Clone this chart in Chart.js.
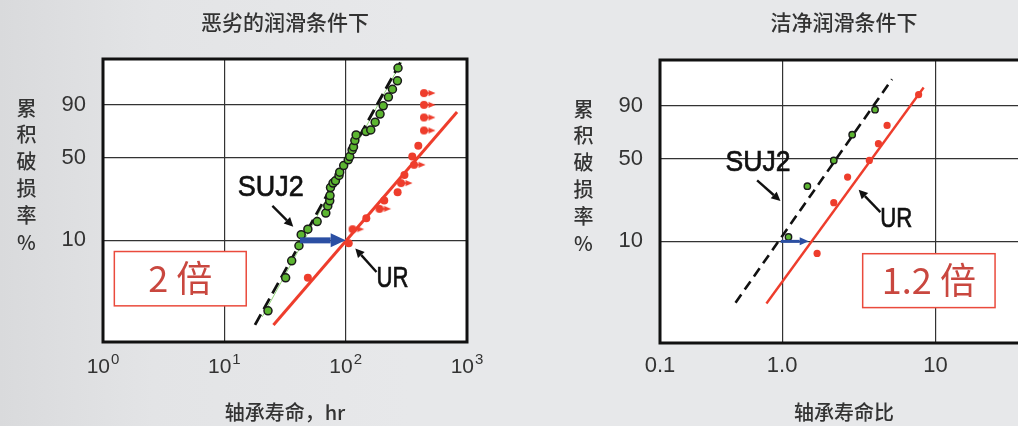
<!DOCTYPE html>
<html>
<head>
<meta charset="utf-8">
<script src="https://cdn.jsdelivr.net/npm/chart.js@4.4.1/dist/chart.umd.min.js"></script>
<style>
html,body{margin:0;padding:0;width:1018px;height:426px;overflow:hidden;
  background:linear-gradient(90deg,#d9dadc 0%,#e3e4e6 15%,#e7e8ea 40%,#e7e8ea 100%);}
#left{position:absolute;left:0;top:0}
#right{position:absolute;left:500px;top:0}
</style>
</head>
<body>
<canvas id="left" width="500" height="426"></canvas>
<canvas id="right" width="535" height="426"></canvas>
<script>
// shared y axis: cumulative failure %, on a Weibull scale
const yTickPcts = [10, 50, 90];
const yRangePct = [1.04, 99.85];
const yTitleChars = ['累', '积', '破', '损', '率', '%'];

// left chart - poor lubrication, life in hours
const leftXTicks = [1, 10, 100, 1000];
const sujLife = [22.9, 32.0, 35.9, 41.2, 43.0, 48.8, 58.2, 68.6, 71.2, 73.9, 74.3, 75.0, 78.7, 82.4, 88.1, 89.3,
                 96.3, 105, 108, 113, 116, 119, 122, 147, 161, 175, 192, 204, 225, 243, 267, 270];
const sujPct  = [2.1, 4.4, 6.4, 8.9, 11.3, 12.7, 14.9, 17.8, 20.6, 22.8, 25.3, 29.5, 32.1, 33.5, 36.9, 39.1,
                 43.8, 48.2, 50.7, 56.1, 58.6, 63.9, 68.6, 71.3, 72.7, 78.7, 84.4, 89.4, 93.5, 96.2, 98.1, 99.5];
const urLife = [48.8, 106, 148, 208, 268, 305, 354, 397];
const urPct  = [4.4, 9.4, 16.0, 22.9, 27.0, 37.3, 50.7, 59.5];
// suspended (still running) UR bearings, shown with a right arrow
const urSuspLife = [114, 190, 286, 366, 442, 442, 442, 442];
const urSuspPct  = [12.7, 19.4, 32.1, 44.4, 72.2, 82.1, 89.9, 95.0];
const sujFitLife = [17.9, 293];
const sujFitPct  = [1.53, 99.85];
const sujThinLife = [20.5, 288];
const sujThinPct  = [1.83, 99.77];
const urFitLife = [25.4, 828];
const urFitPct  = [1.53, 85.7];

// right chart - clean lubrication, life ratio
const rightXTicks = [0.16, 1, 10];
const rightXTickLabels = ['0.1', '1.0', '10'];
const rSujRatio = [1.10, 1.46, 2.17, 2.86, 4.03];
const rSujPct   = [11.0, 30.9, 48.5, 69.6, 87.8];
const rUrRatio = [1.69, 2.17, 2.67, 3.70, 4.24, 4.83, 7.75];
const rUrPct   = [7.7, 22.4, 36.5, 48.5, 62.1, 77.0, 94.8];
const rSujFitRatio = [0.497, 5.20];
const rSujFitPct   = [2.58, 98.5];
const rUrFitRatio = [0.79, 8.36];
const rUrFitPct   = [2.53, 96.9];

const RED = '#ee3d2c', GREEN = '#5cb531', BLUE = '#2b4fa3';
const SANS = '"Liberation Sans", Arial, sans-serif';
const CJK = '"Noto Sans CJK SC", "Noto Sans", sans-serif';
Chart.defaults.font.family = SANS;

const wb = p => Math.log(-Math.log(1 - p / 100));
const pts = (xs, ps) => xs.map((x, i) => ({x: x, y: wb(ps[i])}));

function suspendedMarker(){
  const c = document.createElement('canvas');
  c.width = 26; c.height = 10;
  const g = c.getContext('2d');
  g.fillStyle = RED;
  g.beginPath(); g.arc(13, 5, 4, 0, Math.PI * 2); g.fill();
  g.beginPath(); g.moveTo(17.5, 2); g.lineTo(24.5, 5); g.lineTo(17.5, 8); g.closePath(); g.fill();
  g.fillRect(16, 4.2, 2, 1.6);
  return c;
}

function arrow(ctx, x1, y1, x2, y2, w, len, half, color){
  const a = Math.atan2(y2 - y1, x2 - x1);
  const bx = x2 - Math.cos(a) * len, by = y2 - Math.sin(a) * len;
  ctx.save();
  ctx.strokeStyle = color; ctx.fillStyle = color; ctx.lineWidth = w;
  ctx.beginPath(); ctx.moveTo(x1, y1); ctx.lineTo(bx, by); ctx.stroke();
  ctx.beginPath();
  ctx.moveTo(x2, y2);
  ctx.lineTo(bx + Math.sin(a) * half, by - Math.cos(a) * half);
  ctx.lineTo(bx - Math.sin(a) * half, by + Math.cos(a) * half);
  ctx.closePath(); ctx.fill();
  ctx.restore();
}

// annotations, titles, frame
const deco = {
  id: 'deco',
  beforeDraw(chart){
    const {ctx, chartArea: a} = chart;
    ctx.save(); ctx.fillStyle = '#fff';
    ctx.fillRect(a.left, a.top, a.right - a.left, a.bottom - a.top);
    ctx.restore();
  },
  afterDatasetsDraw(chart, args, o){
    const {ctx, scales} = chart;
    const P = d => [scales.x.getPixelForValue(d[0]), scales.y.getPixelForValue(wb(d[1]))];
    // red box
    const b1 = P(o.box.from), b2 = P(o.box.to);
    ctx.save();
    ctx.fillStyle = '#fff'; ctx.strokeStyle = '#ea4a3c'; ctx.lineWidth = 1.5;
    ctx.fillRect(b1[0], b1[1], b2[0] - b1[0], b2[1] - b1[1]);
    ctx.strokeRect(b1[0], b1[1], b2[0] - b1[0], b2[1] - b1[1]);
    ctx.fillStyle = '#c9473f'; ctx.font = '36px ' + CJK;
    ctx.textAlign = 'center'; ctx.textBaseline = 'middle';
    ctx.fillText(o.box.text, (b1[0] + b2[0]) / 2, (b1[1] + b2[1]) / 2);
    ctx.restore();
    // life shift arrow
    const s1 = P([o.shift.x[0], o.shift.pct]), s2 = P([o.shift.x[1], o.shift.pct]);
    arrow(ctx, s1[0], s1[1], s2[0], s2[1], o.shift.width, o.shift.head[0], o.shift.head[1], BLUE);
    // pointer arrows
    o.pointers.forEach(p => {
      const f = P(p.from), t = P(p.to);
      arrow(ctx, f[0], f[1], t[0], t[1], 2.4, 9, 4.5, '#111');
    });
    // labels, slightly narrow and heavy like the original lettering
    o.labels.forEach(l => {
      const c = P(l.at);
      ctx.save();
      ctx.fillStyle = '#111'; ctx.strokeStyle = '#111'; ctx.lineWidth = 0.7;
      ctx.font = l.size + 'px ' + SANS;
      ctx.textAlign = 'center'; ctx.textBaseline = 'alphabetic';
      ctx.fillText(l.text, c[0], c[1] + l.size * 0.358, l.maxW);
      ctx.strokeText(l.text, c[0], c[1] + l.size * 0.358, l.maxW);
      ctx.restore();
    });
  },
  afterDraw(chart, args, o){
    const {ctx, chartArea: a, scales} = chart;
    ctx.save();
    ctx.strokeStyle = '#111'; ctx.lineWidth = 3;
    ctx.strokeRect(a.left, a.top, a.right - a.left, a.bottom - a.top);
    const cx = (a.left + a.right) / 2;
    ctx.fillStyle = '#333'; ctx.textAlign = 'center'; ctx.textBaseline = 'middle';
    ctx.font = '500 21px ' + CJK;
    ctx.fillText(o.title, cx, 21.7);
    ctx.font = '500 20px ' + CJK;
    ctx.fillText(o.xTitle, cx, 412.5);
    yTitleChars.forEach((ch, i) => ctx.fillText(ch, a.left - 76.5, a.top + 49 + i * 26.8));
    if (o.powerTicks){
      ctx.textAlign = 'left'; ctx.textBaseline = 'alphabetic';
      leftXTicks.forEach(v => {
        const x = scales.x.getPixelForValue(v);
        const e = String(Math.round(Math.log10(v)));
        ctx.font = '21px ' + SANS;
        const w10 = ctx.measureText('10').width;
        ctx.font = '15px ' + SANS;
        const we = ctx.measureText(e).width;
        const x0 = x - (w10 + 1 + we) / 2;
        ctx.font = '21px ' + SANS;
        ctx.fillText('10', x0, a.bottom + 31);
        ctx.font = '15px ' + SANS;
        ctx.fillText(e, x0 + w10 + 1, a.bottom + 22);
      });
    }
    ctx.restore();
  }
};

function scales(o){
  return {
    x: {
      type: 'logarithmic', min: o.xMin, max: o.xMax,
      afterBuildTicks: s => { s.ticks = o.xTicks.map(v => ({value: v})); },
      afterFit: s => { s.height = o.xAxisH; },
      grid: {color: '#333', lineWidth: 1.2, drawTicks: false},
      border: {display: false},
      ticks: {display: !!o.xLabels, padding: 10, color: '#333', font: {size: 22},
              callback: (v, i) => o.xLabels ? o.xLabels[i] : ''}
    },
    y: {
      type: 'linear', min: wb(yRangePct[0]), max: wb(yRangePct[1]),
      afterBuildTicks: s => { s.ticks = yTickPcts.map(p => ({value: wb(p)})); },
      afterFit: s => { s.width = o.yAxisW; },
      grid: {color: '#333', lineWidth: 1.2, drawTicks: false},
      border: {display: false},
      ticks: {padding: 17, color: '#333', font: {size: 22},
              callback: (v, i) => String(yTickPcts[i])}
    }
  };
}

const fitLine = (data, color, width, dash) => ({
  data: data, showLine: true, borderColor: color, borderWidth: width,
  borderDash: dash || [], pointRadius: 0, tension: 0
});

new Chart(document.getElementById('left'), {
  type: 'scatter',
  data: {datasets: [
    {data: pts(sujLife, sujPct), backgroundColor: GREEN, borderColor: '#1a1a1a', pointRadius: 4, pointBorderWidth: 1.5},
    {data: pts(urLife, urPct), backgroundColor: RED, borderColor: RED, pointRadius: 4, pointBorderWidth: 0},
    {data: pts(urSuspLife, urSuspPct), pointStyle: suspendedMarker(), pointRadius: 5},
    fitLine(pts(sujFitLife, sujFitPct), '#111', 2.8, [12, 6]),
    fitLine(pts(sujThinLife, sujThinPct), '#95d67c', 1),
    fitLine(pts(urFitLife, urFitPct), RED, 3)
  ]},
  options: {
    responsive: false, animation: false, events: [],
    layout: {padding: {left: 0, right: 33, top: 59, bottom: 0}},
    plugins: {
      legend: {display: false}, tooltip: {enabled: false},
      deco: {
        title: '恶劣的润滑条件下', xTitle: '轴承寿命，hr', powerTicks: true,
        shift: {x: [42, 100], pct: 10, width: 6, head: [15, 7]},
        labels: [{text: 'SUJ2', at: [24.1, 31.1], size: 30, maxW: 66},
                 {text: 'UR', at: [242.7, 4.5], size: 29, maxW: 32}],
        pointers: [{from: [24.9, 20.6], to: [37.0, 13.4]},
                   {from: [179.5, 5.0], to: [120.1, 8.4]}],
        box: {from: [1.24, 7.85], to: [15.15, 2.35], text: '2 倍'}
      }
    },
    scales: scales({xMin: 1, xMax: 1000, xTicks: leftXTicks, xAxisH: 84, yAxisW: 103})
  },
  plugins: [deco]
});

new Chart(document.getElementById('right'), {
  type: 'scatter',
  data: {datasets: [
    {data: pts(rSujRatio, rSujPct), backgroundColor: GREEN, borderColor: '#1a1a1a', pointRadius: 3.2, pointBorderWidth: 1.4},
    {data: pts(rUrRatio, rUrPct), backgroundColor: RED, borderColor: RED, pointRadius: 3.6, pointBorderWidth: 0},
    fitLine(pts(rSujFitRatio, rSujFitPct), '#111', 2.6, [10, 6]),
    fitLine(pts(rUrFitRatio, rUrFitPct), RED, 2.4)
  ]},
  options: {
    responsive: false, animation: false, events: [],
    layout: {padding: {left: 0, right: 7, top: 60, bottom: 0}},
    plugins: {
      legend: {display: false}, tooltip: {enabled: false},
      deco: {
        title: '洁净润滑条件下', xTitle: '轴承寿命比', powerTicks: false,
        shift: {x: [0.98, 1.49], pct: 10, width: 3, head: [9, 4]},
        labels: [{text: 'SUJ2', at: [0.696, 49], size: 30, maxW: 65},
                 {text: 'UR', at: [5.55, 16.7], size: 28, maxW: 32}],
        pointers: [{from: [0.687, 34.4], to: [0.975, 23.2]},
                   {from: [4.365, 18.5], to: [3.153, 28.9]}],
        box: {from: [3.348, 7.65], to: [24.4, 2.31], text: '1.2 倍'}
      }
    },
    scales: scales({xMin: 0.16, xMax: 40, xTicks: rightXTicks, xLabels: rightXTickLabels, xAxisH: 83, yAxisW: 160})
  },
  plugins: [deco]
});
</script>
</body>
</html>
